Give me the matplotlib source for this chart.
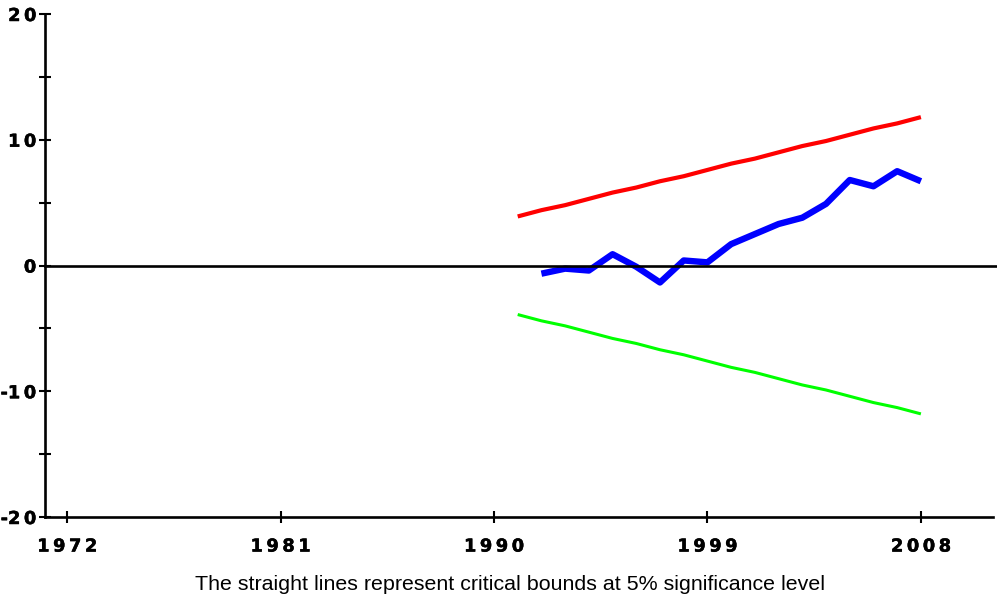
import matplotlib.pyplot as plt
import matplotlib.patheffects as pe

# CUSUM statistic and the 5% critical bounds
cusum_years = list(range(1992, 2009))
cusum = [-0.65, -0.25, -0.4, 0.9, -0.1, -1.35, 0.4, 0.25, 1.7, 2.5, 3.3, 3.8,
         4.9, 6.8, 6.3, 7.5, 6.7]

bound_years = list(range(1991, 2009))
upper = [3.9, 4.4, 4.8, 5.3, 5.8, 6.2, 6.7, 7.1, 7.6, 8.1, 8.5, 9.0, 9.5,
         9.9, 10.4, 10.9, 11.3, 11.8]
lower = [-v for v in upper]

year_ticks = [1972, 1981, 1990, 1999, 2008]
y_ticks = [-20, -10, 0, 10, 20]
y_minor = [-15, -5, 5, 15]

# spaced-out digits for the tick labels
sp = '\u2009'
year_labels = [sp.join(str(y)) for y in year_ticks]
y_labels = [('-' + sp.join(str(-v))) if v < 0 else sp.join(str(v)) for v in y_ticks]

plt.rcParams['font.family'] = 'Liberation Sans'

fig = plt.figure(figsize=(9.97, 5.97), dpi=100)
ax = fig.add_axes([45 / 997, 80 / 597, 948 / 997, 503 / 597])

ax.plot(bound_years, upper, color='#ff0000', lw=3.0, solid_capstyle='butt')
ax.plot(bound_years, lower, color='#00ff00', lw=2.2, solid_capstyle='butt')
ax.plot(cusum_years, cusum, color='#0000ff', lw=4.6, solid_capstyle='butt')
ax.axhline(0, color='black', lw=1.9, xmax=1.005, clip_on=False)

ax.set_xlim(1971.07, 2011.04)
ax.set_ylim(-20, 20)

ax.spines['top'].set_visible(False)
ax.spines['right'].set_visible(False)
ax.spines['left'].set_linewidth(1.9)
ax.spines['bottom'].set_linewidth(1.9)

tick_font = dict(family='DejaVu Sans', size=12.8, weight='bold')
ax.set_xticks(year_ticks)
ax.set_xticklabels(year_labels, fontdict=tick_font)
ax.set_yticks(y_ticks)
ax.set_yticklabels(y_labels, fontdict=tick_font)
ax.set_yticks(y_minor, minor=True)
ax.tick_params(axis='both', which='both', direction='inout', length=8.6,
               width=1.5, color='black')
ax.tick_params(axis='x', pad=10.5)
ax.tick_params(axis='y', pad=2)

# slightly heavier strokes on the tick numbers
for lbl in ax.get_xticklabels() + ax.get_yticklabels():
    lbl.set_path_effects([pe.withStroke(linewidth=0.35, foreground='black')])

fig.text(510 / 997, 1 - 585 / 597,
         'The straight lines represent critical bounds at 5% significance level',
         ha='center', va='center', fontsize=15.4)

fig.savefig('out.png', dpi=100)
